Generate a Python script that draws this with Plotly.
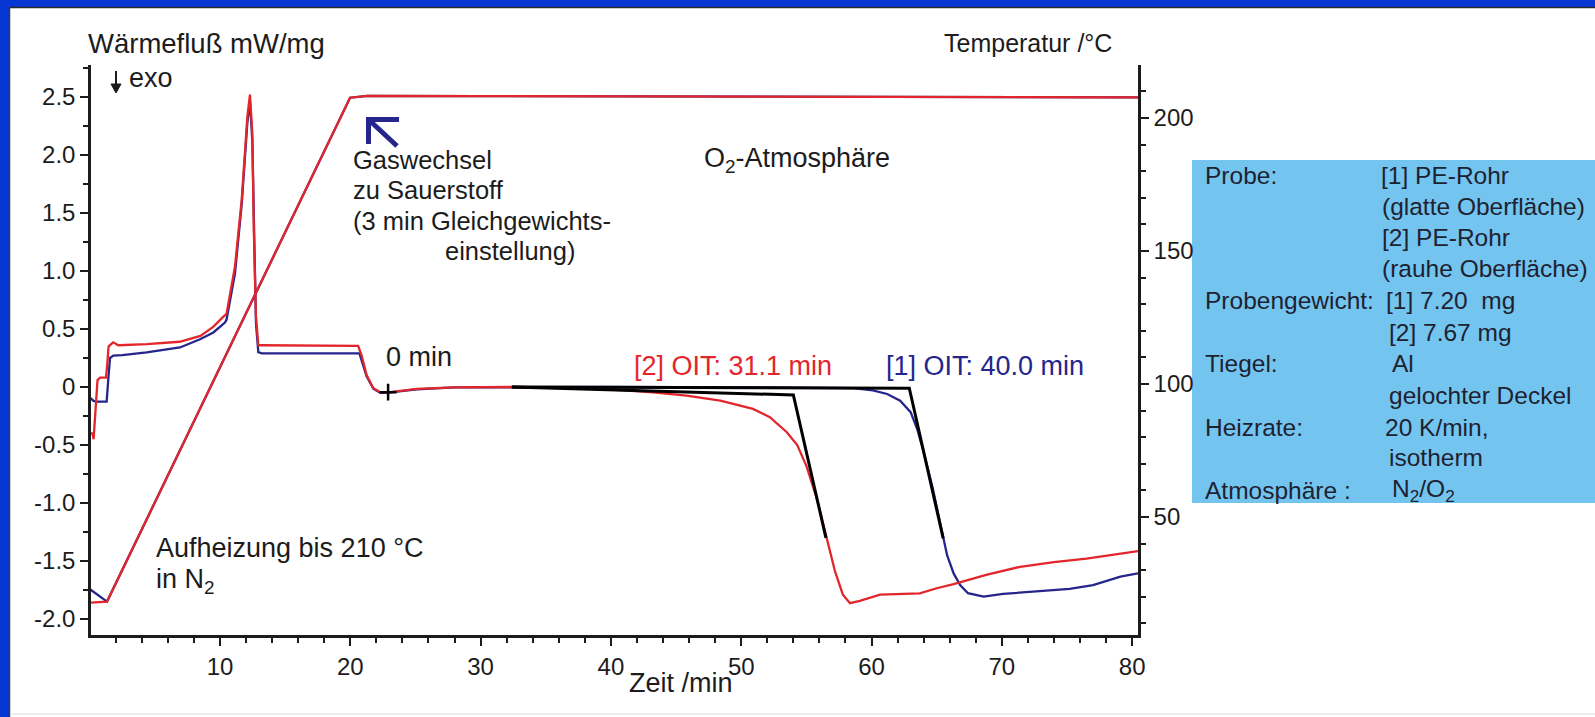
import plotly.graph_objects as go

# ---- Messdaten (Zeit in min, Wärmefluss in mW/mg, Temperatur in °C) ----
# Probe [2]: PE-Rohr, rauhe Oberfläche (rot)
t_hf2 = [0.0, 0.22, 0.30, 0.50, 0.60, 0.80, 1.25, 1.35, 1.45, 1.80, 2.20, 4.40, 6.90, 8.50,
         9.50, 10.20, 10.50, 11.15, 11.67, 12.10, 12.30, 12.48, 12.60, 12.76, 12.94, 13.20,
         16.0, 20.60, 20.87, 21.26, 21.77, 22.30, 22.90, 25.10, 28.00, 32.40, 36.00, 40.70,
         43.25, 45.80, 48.40, 50.90, 52.20, 53.50, 54.30, 55.00, 55.80, 56.60, 57.20, 57.80,
         58.35, 59.10, 60.65, 63.70, 65.00, 66.30, 68.80, 71.40, 74.00, 76.50, 79.10, 80.45]
hf2 = [-0.40, -0.40, -0.45, -0.05, 0.06, 0.08, 0.08, 0.20, 0.35, 0.385, 0.36, 0.37, 0.39, 0.44,
       0.52, 0.60, 0.63, 1.04, 1.62, 2.33, 2.52, 2.19, 1.33, 0.61, 0.36, 0.36,
       0.36, 0.355, 0.27, 0.10, -0.01, -0.045, -0.046, -0.017, -0.003, 0.0, -0.005, -0.026,
       -0.046, -0.075, -0.118, -0.189, -0.26, -0.39, -0.50, -0.68, -0.96, -1.31, -1.59, -1.79,
       -1.864, -1.844, -1.79, -1.78, -1.735, -1.70, -1.62, -1.55, -1.51, -1.48, -1.435, -1.415]

# Probe [1]: PE-Rohr, glatte Oberfläche (blau)
t_hf1 = [0.0, 0.30, 0.50, 1.30, 1.45, 1.56, 1.81, 2.50, 4.37, 6.93, 8.47, 9.49, 10.38, 10.50,
         11.15, 11.67, 12.10, 12.30, 12.48, 12.60, 12.76, 12.94, 13.20, 16.0, 20.70, 20.95,
         21.26, 21.77, 22.30, 22.90, 25.10, 28.00, 32.40, 40.0, 50.0, 58.60, 60.10, 61.20,
         62.20, 63.00, 63.50, 64.00, 64.70, 65.40, 65.80, 66.30, 66.80, 67.40, 68.60, 70.10,
         72.70, 75.20, 77.00, 79.10, 80.45]
hf1 = [-0.09, -0.12, -0.126, -0.126, 0.10, 0.25, 0.27, 0.275, 0.298, 0.341, 0.412, 0.47, 0.556, 0.58,
       0.98, 1.58, 2.28, 2.46, 2.12, 1.28, 0.55, 0.30, 0.29, 0.29, 0.29, 0.20,
       0.09, -0.015, -0.05, -0.048, -0.02, -0.003, 0.0, 0.0, -0.003, -0.01, -0.03, -0.06,
       -0.118, -0.217, -0.36, -0.56, -0.876, -1.248, -1.45, -1.607, -1.707, -1.778, -1.807, -1.784,
       -1.764, -1.74, -1.707, -1.635, -1.607]

# Temperaturprogramm (20 K/min bis 210 °C, danach isotherm)
t_temp2 = [0.0, 1.0, 1.33, 19.98, 21.30, 30.0, 50.0, 80.45]
temp2 = [17.8, 18.0, 18.2, 207.6, 208.3, 208.2, 208.0, 207.7]
t_temp1 = [0.0, 1.33, 19.98, 21.30, 30.0, 50.0, 80.45]
temp1 = [22.9, 18.2, 207.6, 208.3, 208.2, 208.0, 207.7]

# Auswertung der Oxidations-Induktionszeit
t_start_o2 = 22.9          # 0 min nach der Gleichgewichtseinstellung
hf_start_o2 = -0.045
oit_1 = 40.0
oit_2 = 31.1
base_from = 32.4
base_level = [0.0, -0.011]     # [1]: Basislinie Anfang / Ende
base_level2 = [0.0, -0.069]    # [2]
tangent_end_1 = (65.5, -1.305)
tangent_end_2 = (56.5, -1.30)

x_ticks = [10, 20, 30, 40, 50, 60, 70, 80]
y_ticks = [-2.0, -1.5, -1.0, -0.5, 0.0, 0.5, 1.0, 1.5, 2.0, 2.5]
y_ticktext = ["-2.0", "-1.5", "-1.0", "-0.5", "0", "0.5", "1.0", "1.5", "2.0", "2.5"]
y2_ticks = [50, 100, 150, 200]

RED = "#e2262b"
NAVY = "#25258c"
INK = "#1c1c1c"
FONT = "Liberation Sans, Arial, sans-serif"

W, H = 1595, 717
ML, MR, MT, MB = 91, 457, 65, 82


def fx(px):
    return (px - ML) / (W - ML - MR)


def fy(py):
    return (H - MB - py) / (H - MT - MB)


fig = go.Figure()

line_w = 2.3
fig.add_trace(go.Scatter(x=t_hf1, y=hf1, mode="lines", line=dict(color=NAVY, width=line_w)))
fig.add_trace(go.Scatter(x=t_hf2, y=hf2, mode="lines", line=dict(color=RED, width=line_w)))
fig.add_trace(go.Scatter(x=t_temp1, y=temp1, mode="lines", yaxis="y2",
                         line=dict(color=NAVY, width=line_w)))
fig.add_trace(go.Scatter(x=t_temp2, y=temp2, mode="lines", yaxis="y2",
                         line=dict(color=RED, width=line_w)))

# Tangentenkonstruktion: Basislinie bis zum Onset, dann Wendetangente
onset_1 = t_start_o2 + oit_1
onset_2 = t_start_o2 + oit_2
fig.add_trace(go.Scatter(x=[base_from, onset_2, tangent_end_2[0]],
                         y=[base_level2[0], base_level2[1], tangent_end_2[1]],
                         mode="lines", line=dict(color="black", width=3)))
fig.add_trace(go.Scatter(x=[base_from, onset_1, tangent_end_1[0]],
                         y=[base_level[0], base_level[1], tangent_end_1[1]],
                         mode="lines", line=dict(color="black", width=3)))
fig.add_trace(go.Scatter(x=[t_start_o2], y=[hf_start_o2], mode="markers",
                         marker=dict(symbol="cross-thin", size=12,
                                     line=dict(color="black", width=2.5))))

axis_common = dict(showline=True, linecolor=INK, linewidth=2.5, ticks="outside",
                   ticklen=8, tickwidth=2, tickcolor=INK, showgrid=False, zeroline=False,
                   tickfont=dict(family=FONT, size=24, color=INK))

fig.update_layout(
    width=W, height=H,
    margin=dict(l=ML, r=MR, t=MT, b=MB, pad=0),
    paper_bgcolor="white", plot_bgcolor="white",
    showlegend=False,
    font=dict(family=FONT, color=INK),
    xaxis=dict(range=[0.1, 80.45], tickmode="array", tickvals=x_ticks,
               minor=dict(tickmode="linear", tick0=0, dtick=2, ticks="outside",
                          ticklen=5, tickwidth=2, tickcolor=INK),
               **axis_common),
    yaxis=dict(range=[-2.138, 2.776], tickmode="array", tickvals=y_ticks,
               ticktext=y_ticktext,
               minor=dict(tickmode="linear", tick0=0, dtick=0.25, ticks="outside",
                          ticklen=5, tickwidth=2, tickcolor=INK),
               **axis_common),
    yaxis2=dict(range=[5.64, 219.9], overlaying="y", side="right", tickmode="array",
                tickvals=y2_ticks,
                minor=dict(tickmode="linear", tick0=0, dtick=10, ticks="outside",
                           ticklen=5, tickwidth=2, tickcolor=INK),
                **axis_common),
)

shapes = []
BLUE_FRAME = "#0636d3"
# Rahmen der Folie
shapes.append(dict(type="rect", xref="paper", yref="paper", x0=fx(0), x1=fx(W),
                   y0=fy(0), y1=fy(7), fillcolor=BLUE_FRAME, line=dict(width=0), layer="above"))
shapes.append(dict(type="rect", xref="paper", yref="paper", x0=fx(0), x1=fx(9),
                   y0=fy(0), y1=fy(H), fillcolor=BLUE_FRAME, line=dict(width=0), layer="above"))
shapes.append(dict(type="line", xref="paper", yref="paper", x0=fx(9), x1=fx(W),
                   y0=fy(7.5), y1=fy(7.5), line=dict(color="#2a2a2a", width=1.5)))
shapes.append(dict(type="line", xref="paper", yref="paper", x0=fx(9.5), x1=fx(9.5),
                   y0=fy(7), y1=fy(H), line=dict(color="#3a3a3a", width=1.5)))
shapes.append(dict(type="line", xref="paper", yref="paper", x0=fx(10), x1=fx(W),
                   y0=fy(714), y1=fy(714), line=dict(color="#dcdcdc", width=1)))

# Infokasten
shapes.append(dict(type="rect", xref="paper", yref="paper", x0=fx(1192), x1=fx(1595),
                   y0=fy(160), y1=fy(503), fillcolor="#74c4f0", line=dict(width=0),
                   layer="below"))

# Pfeil: Gaswechsel
shapes.append(dict(type="path", xref="paper", yref="paper",
                   path=(f"M {fx(399)},{fy(119.5)} L {fx(368.5)},{fy(119.5)} L {fx(368.5)},{fy(144)} "
                         f"M {fx(368.5)},{fy(119.5)} L {fx(397)},{fy(146)}"),
                   line=dict(color=NAVY, width=5)))
# Pfeil: exo nach unten
shapes.append(dict(type="line", xref="paper", yref="paper", x0=fx(116), x1=fx(116),
                   y0=fy(71), y1=fy(86), line=dict(color=INK, width=2)))
shapes.append(dict(type="path", xref="paper", yref="paper",
                   path=f"M {fx(111)},{fy(84)} L {fx(121)},{fy(84)} L {fx(116)},{fy(93)} Z",
                   fillcolor=INK, line=dict(color=INK, width=1)))
fig.update_layout(shapes=shapes)

annotations = []


def label(text, px, py, size=25, color=INK, anchor="left"):
    annotations.append(dict(text=text, x=fx(px), y=fy(py), xref="paper", yref="paper",
                            xanchor=anchor, yanchor="middle", showarrow=False,
                            font=dict(family=FONT, size=size, color=color)))


label("Wärmefluß mW/mg", 86, 43, size=27.5)
label("Temperatur /°C", 1114, 43, anchor="right")
label("exo", 127, 78, size=27)
label("Gaswechsel", 351, 160, size=25.5)
label("zu Sauerstoff", 351, 190, size=25.5)
label("(3 min Gleichgewichts-", 351, 221, size=25.5)
label("einstellung)", 443, 251, size=25.5)
label("O<sub>2</sub>-Atmosphäre", 702, 160, size=27)
label("0 min", 384, 357, size=27)
label(f"[2] OIT: {oit_2:.1f} min", 632, 366, size=27, color=RED)
label(f"[1] OIT: {oit_1:.1f} min", 884, 366, size=27, color=NAVY)
label("Aufheizung bis 210 °C", 154, 548, size=27)
label("in N<sub>2</sub>", 154, 581, size=27)
label("Zeit /min", 627, 683, size=27)

box_size = 24.5
box_rows = [
    ("Probe:", 1203, 175), ("[1] PE-Rohr", 1379, 175),
    ("(glatte Oberfläche)", 1380, 206), ("[2] PE-Rohr", 1380, 237),
    ("(rauhe Oberfläche)", 1380, 268),
    ("Probengewicht:", 1203, 300), ("[1] 7.20  mg", 1384, 300),
    ("[2] 7.67 mg", 1387, 332),
    ("Tiegel:", 1203, 363), ("Al", 1390, 363),
    ("gelochter Deckel", 1387, 395),
    ("Heizrate:", 1203, 427), ("20 K/min,", 1383, 427),
    ("isotherm", 1387, 458),
    ("Atmosphäre :", 1203, 490), ("N<sub>2</sub>/O<sub>2</sub>", 1390, 490),
]
for text, px, py in box_rows:
    label(text, px, py, size=box_size, color="#1e2230")

fig.update_layout(annotations=annotations)

fig.write_html("out.html")
